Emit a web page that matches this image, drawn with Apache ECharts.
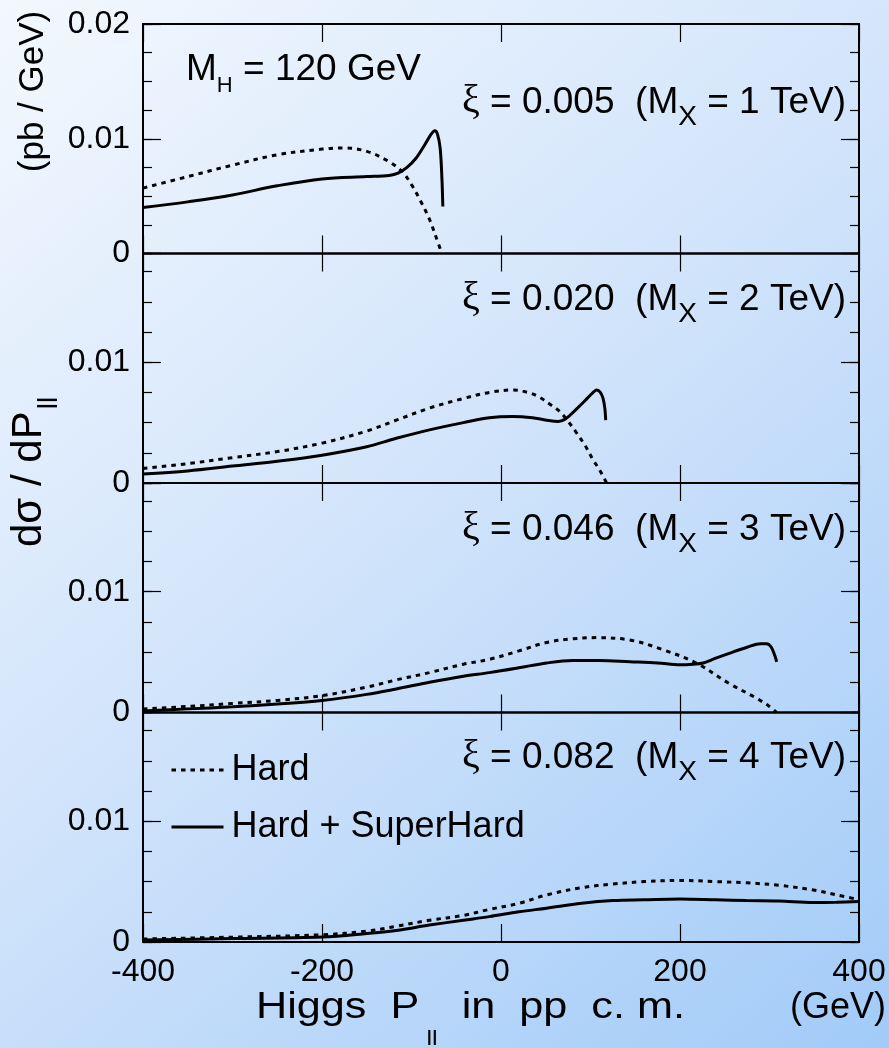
<!DOCTYPE html>
<html><head><meta charset="utf-8">
<script src="https://cdn.jsdelivr.net/npm/echarts@6/dist/echarts.min.js"></script>
<style>html,body{margin:0;padding:0;background:#fff}#c{width:889px;height:1048px}</style>
</head><body><div id="c"></div>
<script>
// ---- data (x = Higgs P_parallel in GeV, y = dσ/dP in pb/GeV) ----
const seriesNames = ['Hard', 'Hard + SuperHard'];
const xTicks = [-400, -200, 0, 200, 400];
const yTickLabels = ['0', '0.01', '0.02'];
const panelXi = ['0.005', '0.020', '0.046', '0.082'];
const panelMx = ['1', '2', '3', '4'];

const hard1 = [[-400,0.0057],[-350,0.0067],[-300,0.0077],[-250,0.0086],[-200,0.0091],[-175,0.0092],[-150,0.0089],[-125,0.0080],[-110,0.0071],[-100,0.0060],[-90,0.0046],[-80,0.0030],[-72,0.0013],[-66,0]];
const super1 = [[-400,0.0040],[-350,0.0045],[-300,0.0051],[-250,0.0059],[-200,0.0065],[-150,0.0067],[-125,0.0068],[-115,0.0070],[-105,0.0075],[-95,0.0083],[-85,0.0095],[-78,0.0104],[-74,0.0107],[-71,0.0104],[-68,0.0092],[-66,0.0065],[-65,0.0041]];
const hard2 = [[-400,0.0012],[-350,0.0016],[-300,0.0021],[-250,0.0026],[-200,0.0033],[-150,0.0043],[-117,0.0052],[-80,0.0062],[-42,0.0070],[-13,0.0075],[13,0.0077],[30,0.0075],[43,0.0071],[55,0.0065],[66,0.0059],[75,0.0051],[84,0.0042],[94,0.0031],[103,0.0019],[110,0.0011],[118,0]];
const super2 = [[-400,0.00075],[-350,0.0010],[-300,0.0014],[-250,0.0018],[-200,0.0023],[-150,0.0030],[-117,0.0037],[-80,0.0044],[-42,0.0050],[-13,0.0054],[13,0.0055],[35,0.0054],[51,0.0052],[64,0.0051],[72,0.0053],[84,0.0061],[95,0.0069],[103,0.0075],[107,0.0077],[111,0.0075],[114,0.0070],[116,0.0062],[117,0.0052]];
const hard3 = [[-400,0.0003],[-350,0.0005],[-300,0.00075],[-250,0.0010],[-200,0.0014],[-150,0.0021],[-117,0.0027],[-80,0.0033],[-42,0.0040],[-13,0.0044],[20,0.0051],[51,0.0058],[80,0.0061],[107,0.0062],[144,0.0060],[181,0.0052],[218,0.0041],[255,0.0024],[285,0.0012],[300,0.0005],[308,0]];
const super3 = [[-400,0.00013],[-350,0.0003],[-300,0.00047],[-250,0.0007],[-200,0.0010],[-150,0.0015],[-117,0.00195],[-80,0.0025],[-42,0.0030],[-13,0.0033],[20,0.0037],[51,0.0041],[80,0.0043],[110,0.0043],[144,0.0042],[175,0.0041],[200,0.00395],[215,0.0040],[226,0.0041],[240,0.0045],[255,0.0049],[275,0.0054],[290,0.0057],[297,0.0057],[302,0.0054],[306,0.0047],[308,0.0042]];
const hard4 = [[-400,0.00025],[-300,0.0004],[-200,0.0006],[-150,0.0009],[-117,0.0013],[-80,0.0018],[-42,0.0022],[-13,0.0027],[20,0.0032],[51,0.0039],[90,0.0045],[125,0.0048],[160,0.0050],[200,0.0051],[240,0.0050],[274,0.0049],[310,0.0047],[349,0.0043],[375,0.0039],[400,0.0035]];
const super4 = [[-400,0.00016],[-300,0.00028],[-200,0.00041],[-150,0.0007],[-117,0.00096],[-80,0.0014],[-42,0.0018],[-13,0.0021],[20,0.0025],[51,0.0028],[90,0.0032],[125,0.00343],[160,0.0035],[200,0.00357],[240,0.0035],[274,0.00343],[310,0.0034],[349,0.00328],[375,0.0033],[400,0.00335]];

const hardSets = [hard1, hard2, hard3, hard4];
const superSets = [super1, super2, super3, super4];
const yMax = [0.02, 0.019, 0.019, 0.019];

// ---- layout ----
const FONT = '"Liberation Sans", Arial, Helvetica, sans-serif';
const SERIF = '"Liberation Serif", "DejaVu Serif", serif';
const GL = 143, GW = 716, GT = 24, GH = 229.5;
const tickStyle = { color: '#000', width: 1.2 };

const mctx = document.createElement('canvas').getContext('2d');
function tw(t, s, f) { mctx.font = s + 'px ' + f; return mctx.measureText(t).width; }
// pieces: {t, s, f, d (baseline offset down), pre (gap before)}
function richGroup(pieces, o) {
  let total = 0;
  const ws = pieces.map(p => { const w = tw(p.t, p.s, p.f || FONT) + (p.pre || 0); total += w; return w; });
  let cx = o.align === 'right' ? -total : o.align === 'center' ? -total / 2 : 0;
  const children = pieces.map((p, i) => {
    const el = { type: 'text', x: cx + (p.pre || 0), y: (p.d || 0) - 0.33 * p.s, silent: true,
      style: { text: p.t, font: p.s + 'px ' + (p.f || FONT), fill: '#000', textAlign: 'left', verticalAlign: 'middle' } };
    cx += ws[i];
    return el;
  });
  return { type: 'group', x: o.x, y: o.y, rotation: o.rotation || 0, scaleX: o.scaleX || 1, silent: true, children };
}

const grids = [], xAxes = [], yAxes = [], series = [];
for (let i = 0; i < 4; i++) {
  grids.push({ left: GL, width: GW, top: GT + i * GH, height: GH, show: true, borderColor: '#000', borderWidth: 2, backgroundColor: 'transparent' });
  ['bottom', 'top'].forEach(pos => {
    xAxes.push({ gridIndex: i, type: 'value', position: pos, min: -400, max: 400, interval: 200,
      axisLine: { show: false, onZero: false }, splitLine: { show: false },
      axisTick: { inside: true, length: 18, lineStyle: tickStyle },
      axisLabel: { show: i === 3 && pos === 'bottom', margin: 14, fontSize: 32, fontFamily: FONT, color: '#000',
        formatter: v => String(v) } });
  });
  ['left', 'right'].forEach(pos => {
    yAxes.push({ gridIndex: i, type: 'value', position: pos, min: 0, max: yMax[i], interval: 0.01,
      axisLine: { show: false, onZero: false }, splitLine: { show: false },
      axisTick: { inside: true, length: 18, lineStyle: tickStyle },
      axisLabel: { show: pos === 'left', margin: 13, fontSize: 32, fontFamily: FONT, color: '#000',
        formatter: v => { for (let k = 0; k < yTickLabels.length; k++) if (Math.abs(v - k * 0.01) < 1e-7) return yTickLabels[k]; return ''; } } });
    yAxes.push({ gridIndex: i, type: 'value', position: pos, min: 0, max: yMax[i], interval: 0.0025,
      axisLine: { show: false, onZero: false }, splitLine: { show: false },
      axisTick: { inside: true, length: 9, lineStyle: tickStyle }, axisLabel: { show: false } });
  });
  series.push({ name: seriesNames[0], type: 'line', xAxisIndex: 2 * i, yAxisIndex: 4 * i, data: hardSets[i],
    symbol: 'none', smooth: 0.35, z: 3,
    lineStyle: { color: '#000', width: 3, type: [4.5, 5] }, itemStyle: { color: '#000' } });
  series.push({ name: seriesNames[1], type: 'line', xAxisIndex: 2 * i, yAxisIndex: 4 * i, data: superSets[i],
    symbol: 'none', smooth: 0.35, z: 3,
    lineStyle: { color: '#000', width: 3, type: 'solid' }, itemStyle: { color: '#000' } });
}

const labelBase = [115, 311.7, 541.7, 770];
const graphics = [];
for (let i = 0; i < 4; i++) {
  graphics.push(richGroup([
    { t: 'ξ', s: 40, f: SERIF },
    { t: ' = ' + panelXi[i] + '  (M', s: 37 },
    { t: 'X', s: 28, d: 12 },
    { t: ' = ' + panelMx[i] + ' TeV)', s: 37 }
  ], { x: 846, y: labelBase[i], align: 'right' }));
}
graphics.push(richGroup([
  { t: 'M', s: 37 }, { t: 'H', s: 22, d: 11 }, { t: ' = 120 GeV', s: 37 }
], { x: 186, y: 82, align: 'left' }));
graphics.push(richGroup([
  { t: 'Higgs  P', s: 36 }, { t: 'll', s: 21, d: 26, pre: 6 }, { t: '  in  pp  c. m.', s: 36 }
], { x: 256, y: 1020, align: 'left', scaleX: 1.2 }));
graphics.push(richGroup([{ t: '(GeV)', s: 36 }], { x: 886, y: 1020, align: 'right' }));
graphics.push(richGroup([{ t: '(pb / GeV)', s: 35 }], { x: 45, y: 91.5, align: 'center', rotation: Math.PI / 2 }));
graphics.push(richGroup([
  { t: 'dσ / dP', s: 42 }, { t: 'll', s: 28, d: 15, pre: 2 }
], { x: 43.3, y: 547, align: 'left', rotation: Math.PI / 2 }));

const chart = echarts.init(document.getElementById('c'), null, { renderer: 'canvas' });
chart.setOption({
  animation: false,
  backgroundColor: new echarts.graphic.LinearGradient(0, 0, 1, 1, [
    { offset: 0, color: '#f3f8fe' }, { offset: 0.45, color: '#d3e5fb' }, { offset: 1, color: '#a2cbf8' }]),
  grid: grids, xAxis: xAxes, yAxis: yAxes, series: series,
  legend: { data: seriesNames, orient: 'vertical', left: 170, top: 752, padding: 0, itemWidth: 52, itemHeight: 12, itemGap: 21,
    selectedMode: false, itemStyle: { opacity: 0 }, lineStyle: { width: 3, color: '#000' },
    textStyle: { fontSize: 36, fontFamily: FONT, color: '#000', lineHeight: 36, padding: [0, 0, 0, 3] } },
  graphic: graphics
});
</script></body></html>
